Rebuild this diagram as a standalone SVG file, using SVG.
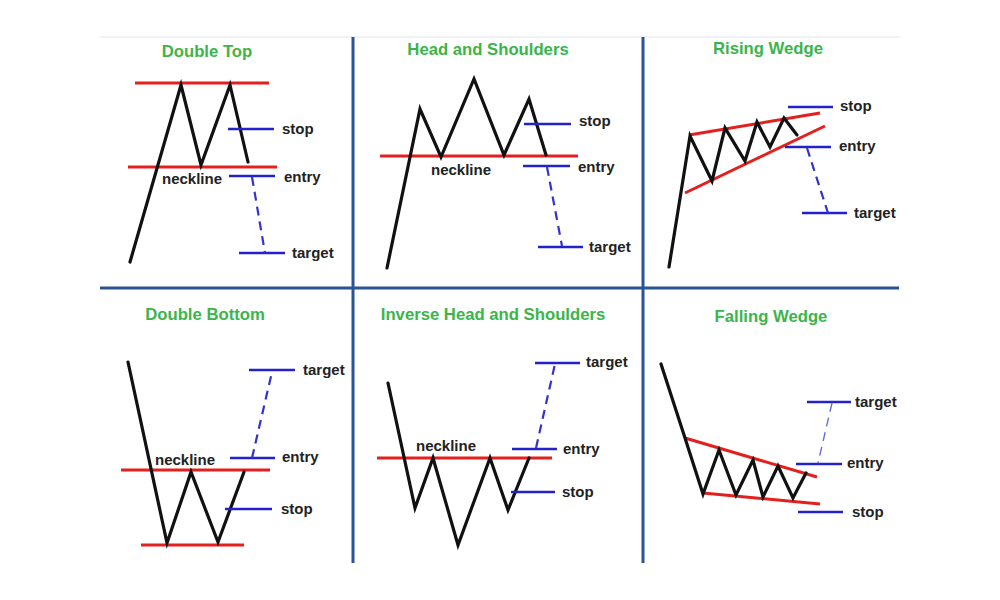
<svg xmlns="http://www.w3.org/2000/svg" width="1000" height="600" viewBox="0 0 1000 600">
<style>
.grid{stroke:#2a5595;stroke-width:3;fill:none}
.price{stroke:#111;stroke-width:3.2;fill:none;stroke-linejoin:miter;stroke-linecap:round}
.red{stroke:#e3201e;stroke-width:3;fill:none}
.blue{stroke:#2222cc;stroke-width:2.6;fill:none}
.dash{stroke:#3333cc;stroke-width:2.2;stroke-dasharray:9,6;fill:none}
.dashthin{stroke:#6b6bd6;stroke-width:1.4;stroke-dasharray:9,6;fill:none}
.title{font-family:"Liberation Sans",Arial,sans-serif;font-weight:bold;font-size:16.7px;fill:#3bb54a;text-anchor:middle}
.lbl{font-family:"Liberation Sans",Arial,sans-serif;font-weight:bold;font-size:15px;fill:#222}
</style>
<rect width="1000" height="600" fill="#fff"/>
<g id="grid">
<line x1="100" y1="37" x2="900" y2="37" stroke="#eceef5" stroke-width="1.5"/>
<line class="grid" x1="100" y1="288" x2="899" y2="288"/>
<line class="grid" x1="353" y1="37" x2="353" y2="563"/>
<line class="grid" x1="643" y1="37" x2="643" y2="563"/>
</g>

<g id="double-top">
<text class="title" x="207" y="57">Double Top</text>
<line class="red" x1="135" y1="83" x2="269" y2="83"/>
<line class="red" x1="128" y1="167" x2="277" y2="167"/>
<polyline class="price" points="130,262 181,85 201,165 230,85 248,162"/>
<line class="blue" x1="228" y1="129" x2="274" y2="129"/>
<line class="blue" x1="229" y1="176" x2="275" y2="176"/>
<line class="blue" x1="239" y1="253" x2="285" y2="253"/>
<line class="dash" x1="252" y1="177" x2="265" y2="253"/>
<text class="lbl" x="282" y="134">stop</text>
<text class="lbl" x="284" y="182">entry</text>
<text class="lbl" x="292" y="258">target</text>
<text class="lbl" x="162" y="184">neckline</text>
</g>

<g id="head-and-shoulders">
<text class="title" x="488" y="55">Head and Shoulders</text>
<line class="red" x1="380" y1="156" x2="578" y2="156"/>
<polyline class="price" points="387,268 420,109 441,157 474,79 504,155 529,99 546,155"/>
<line class="blue" x1="524" y1="124" x2="571" y2="124"/>
<line class="blue" x1="523" y1="166" x2="570" y2="166"/>
<line class="blue" x1="538" y1="247" x2="583" y2="247"/>
<line class="dash" x1="547" y1="167" x2="562" y2="246"/>
<text class="lbl" x="579" y="126">stop</text>
<text class="lbl" x="578" y="172">entry</text>
<text class="lbl" x="589" y="252">target</text>
<text class="lbl" x="431" y="175">neckline</text>
</g>

<g id="rising-wedge">
<text class="title" x="768" y="54">Rising Wedge</text>
<line class="red" x1="689" y1="135" x2="820" y2="113"/>
<line class="red" x1="685" y1="193" x2="825" y2="126"/>
<polyline class="price" points="669,267 690,136 712,181 725,128 745,161 757,122 770,147 784,118 797,135"/>
<line class="blue" x1="788" y1="107" x2="833" y2="107"/>
<line class="blue" x1="785" y1="147" x2="831" y2="147"/>
<line class="blue" x1="802" y1="213" x2="847" y2="213"/>
<line class="dash" x1="807" y1="148" x2="828" y2="213"/>
<text class="lbl" x="840" y="111">stop</text>
<text class="lbl" x="839" y="151">entry</text>
<text class="lbl" x="854" y="218">target</text>
</g>

<g id="double-bottom">
<text class="title" x="205" y="320">Double Bottom</text>
<line class="red" x1="121" y1="470" x2="270" y2="470"/>
<line class="red" x1="141" y1="545" x2="244" y2="545"/>
<polyline class="price" points="128,362 167,543 191,472 218,542 244,472"/>
<line class="blue" x1="249" y1="370" x2="295" y2="370"/>
<line class="blue" x1="230" y1="458" x2="275" y2="458"/>
<line class="blue" x1="225" y1="509" x2="272" y2="509"/>
<line class="dash" x1="252" y1="458" x2="272" y2="372"/>
<text class="lbl" x="303" y="375">target</text>
<text class="lbl" x="282" y="462">entry</text>
<text class="lbl" x="281" y="514">stop</text>
<text class="lbl" x="155" y="465">neckline</text>
</g>

<g id="inverse-head-and-shoulders">
<text class="title" x="493" y="320">Inverse Head and Shoulders</text>
<line class="red" x1="377" y1="458" x2="552" y2="458"/>
<polyline class="price" points="388,383 415,508 433,458 458,545 490,458 508,510 529,458"/>
<line class="blue" x1="535" y1="363" x2="580" y2="363"/>
<line class="blue" x1="512" y1="449" x2="557" y2="449"/>
<line class="blue" x1="511" y1="492" x2="555" y2="492"/>
<line class="dash" x1="536" y1="448" x2="555" y2="364"/>
<text class="lbl" x="586" y="367">target</text>
<text class="lbl" x="563" y="454">entry</text>
<text class="lbl" x="562" y="497">stop</text>
<text class="lbl" x="416" y="451">neckline</text>
</g>

<g id="falling-wedge">
<text class="title" x="771" y="322">Falling Wedge</text>
<line class="red" x1="685" y1="438" x2="817" y2="477"/>
<line class="red" x1="703" y1="493" x2="820" y2="504"/>
<polyline class="price" points="661,364 685,438 703,494 719,450 736,495 753,460 763,497 778,466 793,498 806,473"/>
<line class="blue" x1="807" y1="402" x2="851" y2="402"/>
<line class="blue" x1="796" y1="464" x2="842" y2="464"/>
<line class="blue" x1="798" y1="512" x2="843" y2="512"/>
<line class="dashthin" x1="832" y1="403" x2="818" y2="463"/>
<text class="lbl" x="855" y="407">target</text>
<text class="lbl" x="847" y="468">entry</text>
<text class="lbl" x="852" y="517">stop</text>
</g>
</svg>
